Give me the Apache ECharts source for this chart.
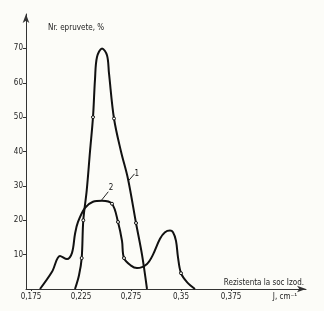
<!DOCTYPE html>
<html>
<head>
<meta charset="utf-8">
<script src="https://cdn.jsdelivr.net/npm/echarts@6/dist/echarts.min.js"></script>
<style>
html,body{margin:0;padding:0;background:#fcfcf8;}
#c{width:324px;height:311px;}
</style>
</head>
<body>
<div id="c"></div>
<script>
// Curve 1 (tall peak)
const c1X = [0.219, 0.223, 0.2257, 0.2273, 0.2307, 0.234, 0.237, 0.239, 0.241, 0.246, 0.251, 0.253, 0.258, 0.265, 0.272, 0.280, 0.286, 0.291];
const c1Y = [0, 4, 9, 20, 28.6, 40, 50, 61, 67.5, 70, 68, 62.7, 49.6, 40, 32, 19.2, 10, 0];
const c1Marks = [2, 3, 6, 12, 15];
// Curve 2 (two-humped)
const c2X = [0.184, 0.196, 0.204, 0.211, 0.216, 0.219, 0.222, 0.229, 0.237, 0.246, 0.256, 0.262, 0.266, 0.268, 0.275, 0.281, 0.291, 0.297, 0.304, 0.309, 0.314, 0.317, 0.320, 0.322, 0.325, 0.331, 0.339];
const c2Y = [0, 5, 9.6, 8.7, 10.5, 16, 19.5, 23.6, 25.4, 25.7, 24.8, 19.5, 14, 9, 6.8, 6.1, 7.3, 10, 14.6, 16.5, 17, 16.5, 14, 9.2, 4.6, 2, 0];
const c2Marks = [10, 11, 13, 24];
// Axis ticks and labels
const xTickValues = [0.175, 0.225, 0.275, 0.325, 0.375];
const xTickLabels = ['0,175', '0,225', '0,275', '0,35', '0,375'];
const xUnitValue = 0.429;
const xUnitLabel = 'J, cm⁻¹';
const yTickValues = [10, 20, 30, 40, 50, 60, 70];
const xName = 'Rezistenta la soc Izod.';
const yName = 'Nr. epruvete, %';
// Curve labels: [text, label x, label y, leader start x, leader start y, leader end x, leader end y]
const curveLabels = [
  ['1', 0.2807, 33.5, 0.2725, 31.5, 0.2785, 33.5],
  ['2', 0.2550, 29.5, 0.2457, 25.9, 0.2523, 28.3]
];

const FONT = 'DejaVu Sans Condensed';

function buildData(xs, ys, marks) {
  return xs.map((x, i) => {
    const item = { value: [x, ys[i]] };
    if (marks.indexOf(i) >= 0) {
      item.symbol = 'circle';
      item.symbolSize = 3;
    } else {
      item.symbol = 'none';
    }
    return item;
  });
}

const labelMap = {};
xTickValues.forEach((v, i) => { labelMap[v.toFixed(3)] = xTickLabels[i]; });
labelMap[xUnitValue.toFixed(3)] = xUnitLabel;

function makeSeries(xs, ys, marks, lbl) {
  return {
    type: 'line',
    data: buildData(xs, ys, marks),
    smooth: 0.35,
    lineStyle: { color: '#111', width: 2 },
    itemStyle: { color: '#fcfcf8', borderColor: '#111', borderWidth: 1 },
    markLine: {
      silent: true, symbol: ['none', 'none'],
      lineStyle: { color: '#222', width: 1, type: 'solid' },
      label: { show: false },
      data: [[{ coord: [lbl[3], lbl[4]] }, { coord: [lbl[5], lbl[6]] }]]
    },
    markPoint: {
      silent: true, symbol: 'circle', symbolSize: 1,
      itemStyle: { color: 'rgba(0,0,0,0)' },
      label: { show: true, fontFamily: FONT, fontSize: 8, color: '#111', formatter: p => p.name },
      data: [{ name: lbl[0], coord: [lbl[1], lbl[2]] }]
    }
  };
}

const chart = echarts.init(document.getElementById('c'), null, { renderer: 'canvas' });
chart.setOption({
  backgroundColor: '#fcfcf8',
  animation: false,
  grid: { left: 26, right: 18, top: 14, bottom: 22, containLabel: false },
  xAxis: {
    type: 'value',
    min: 0.170,
    max: 0.450,
    name: xName,
    nameLocation: 'end',
    nameGap: -2,
    nameTextStyle: { fontFamily: FONT, fontSize: 8, color: '#222', align: 'right', verticalAlign: 'bottom', padding: [0, 0, 2, 0] },
    axisLine: { show: true, symbol: ['none', 'arrow'], symbolSize: [5, 9], lineStyle: { color: '#333', width: 1 } },
    axisTick: { show: true, length: 2, inside: false, customValues: xTickValues, lineStyle: { color: '#333' } },
    axisLabel: {
      customValues: xTickValues.concat([xUnitValue]),
      formatter: v => labelMap[Number(v).toFixed(3)] || '',
      fontFamily: FONT, fontSize: 8, color: '#222', margin: 4
    },
    splitLine: { show: false }
  },
  yAxis: {
    type: 'value',
    min: 0,
    max: 80,
    name: yName,
    nameLocation: 'end',
    nameGap: -18,
    nameTextStyle: { fontFamily: FONT, fontSize: 8, color: '#222', align: 'left', padding: [0, 0, 0, 22] },
    axisLine: { show: true, symbol: ['none', 'arrow'], symbolSize: [5, 9], lineStyle: { color: '#333', width: 1 } },
    axisTick: { show: true, length: 3, customValues: yTickValues, lineStyle: { color: '#333' } },
    axisLabel: { customValues: yTickValues, fontFamily: FONT, fontSize: 8, color: '#222', margin: 3 },
    splitLine: { show: false }
  },
  series: [
    makeSeries(c1X, c1Y, c1Marks, curveLabels[0]),
    makeSeries(c2X, c2Y, c2Marks, curveLabels[1])
  ]
});
</script>
</body>
</html>
